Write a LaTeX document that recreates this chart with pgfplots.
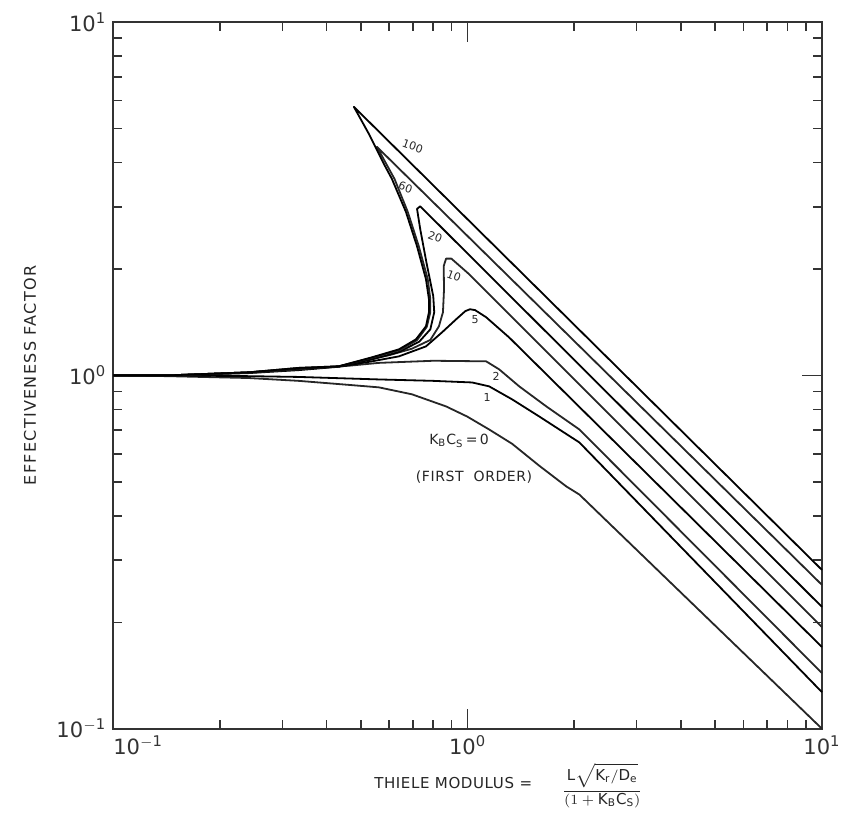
\documentclass[border=0pt]{standalone}
\usepackage{fontspec}
\setmainfont{DejaVu Sans}
\newfontfamily\spaced[LetterSpace=8]{DejaVu Sans}
\newfontfamily\spacedx[LetterSpace=4]{DejaVu Sans}
\usepackage{pgfplots}
\pgfplotsset{compat=1.18}

\begin{document}
\begin{tikzpicture}
\path[use as bounding box] (-56.5pt,-45.5pt) rectangle (365.5pt,363.5pt);
\begin{axis}[
  at={(0,0)}, anchor=south west,
  scale only axis, width=353.5pt, height=352.5pt,
  xmode=log, ymode=log,
  xmin=0.1, xmax=10, ymin=0.1, ymax=10,
  clip=false,
  axis line style={line width=1pt, black!80},
  major tick length=10pt, minor tick length=4.5pt,
  every tick/.style={black!80, line width=0.8pt},
  xtick={0.1,1,10}, ytick={0.1,1,10},
  minor xtick={0.2,0.3,0.4,0.5,0.6,0.7,0.8,0.9,2,3,4,5,6,7,8,9},
  minor ytick={0.2,0.3,0.4,0.5,0.6,0.7,0.8,0.9,2,3,4,5,6,7,8,9},
  xticklabels={\makebox[0pt][l]{10\textsuperscript{$-$1}}, 10\textsuperscript{0}, 10\textsuperscript{1}},
  yticklabels={10\textsuperscript{$-$1}, 10\textsuperscript{0}, 10\textsuperscript{1}},
  tick label style={font=\fontsize{10.5}{12}\selectfont, black!80},
  cycle list={{black!85, solid}},
  every axis plot/.append style={line width=0.9pt, line join=round, no marks},
]
% K_B C_S = 0 (first order)
\addplot coordinates {(0.1,1.0) (0.1431,0.995) (0.2409,0.983) (0.3337,0.965) (0.4622,0.94) (0.5618,0.925) (0.6966,0.884) (0.8694,0.817) (0.9968,0.765) (1.1503,0.703) (1.3365,0.64) (1.5933,0.555) (1.8994,0.485) (2.0675,0.46) (10,0.1)};
% 1
\addplot coordinates {(0.1,1.0) (0.1431,1.0) (0.2409,0.995) (0.3337,0.99) (0.5618,0.974) (0.8,0.965) (1.0297,0.955) (1.1503,0.931) (1.3365,0.855) (1.5933,0.765) (2.0675,0.646) (10,0.1269)};
% 2
\addplot coordinates {(0.1,1.0) (0.1431,1.0) (0.2409,1.02) (0.3337,1.04) (0.4622,1.065) (0.5618,1.085) (0.8,1.1) (1.1279,1.096) (1.2279,1.04) (1.3985,0.931) (1.6679,0.817) (2.0675,0.703) (10,0.1437)};
% 5
\addplot coordinates {(0.1,1.0) (0.1431,1.0) (0.2409,1.015) (0.3337,1.035) (0.4330,1.058) (0.537,1.096) (0.64,1.132) (0.763,1.208) (0.847,1.324) (0.928,1.441) (0.985,1.52) (1.016,1.539) (1.05,1.53) (1.1279,1.461) (1.3105,1.28) (10,0.1703)};
% 10
\addplot coordinates {(0.1,1.0) (0.1431,1.0) (0.2409,1.017) (0.3337,1.04) (0.4330,1.06) (0.5996,1.14) (0.6966,1.19) (0.785,1.26) (0.83,1.377) (0.852,1.509) (0.858,1.754) (0.856,2.037) (0.8694,2.14) (0.90,2.14) (1.0098,1.934) (10,0.194)};
% 20
\addplot coordinates {(0.1,1.0) (0.1431,1.0) (0.2409,1.02) (0.3337,1.045) (0.4330,1.06) (0.537,1.11) (0.64,1.165) (0.73,1.245) (0.785,1.35) (0.805,1.509) (0.80,1.675) (0.765,2.093) (0.735,2.595) (0.72,2.96) (0.735,3.01) (10,0.2212)};
% 60
\addplot coordinates {(0.1,1.0) (0.1431,1.0) (0.2409,1.02) (0.3337,1.05) (0.4330,1.061) (0.537,1.122) (0.645,1.18) (0.72,1.258) (0.767,1.372) (0.785,1.509) (0.785,1.643) (0.772,1.872) (0.728,2.323) (0.678,2.9) (0.622,3.597) (0.5546,4.435) (10,0.2553)};
% 100
\addplot coordinates {(0.1,1.0) (0.1431,1.0) (0.2409,1.02) (0.3337,1.05) (0.4330,1.061) (0.537,1.125) (0.64,1.185) (0.715,1.265) (0.763,1.377) (0.778,1.509) (0.778,1.643) (0.763,1.872) (0.7196,2.323) (0.670,2.9) (0.6116,3.597) (0.5804,3.968) (0.5263,4.828) (0.4775,5.757) (10,0.2815)};

% curve labels
\begin{scope}[every node/.style={font=\fontsize{5.5}{6}\selectfont, black!85, inner sep=0pt}]
\node[rotate=-20] at (axis cs:0.70,4.45) {100};
\node[rotate=-20] at (axis cs:0.668,3.40) {60};
\node[rotate=-20] at (axis cs:0.810,2.47) {20};
\node[rotate=-20] at (axis cs:0.915,1.91) {10};
\node at (axis cs:1.050,1.44) {5};
\node at (axis cs:1.204,0.995) {2};
\node at (axis cs:1.135,0.866) {1};
\end{scope}
\node[font=\fontsize{7}{8}\selectfont, black!85] at (axis cs:0.946,0.654) {K\textsubscript{B}C\textsubscript{S}\,=\,0};
\node[font=\spacedx\fontsize{7}{8}\selectfont, black!85] at (axis cs:1.043,0.514) {(FIRST\ \ ORDER)};

% axis titles
\node[rotate=90, font=\spaced\fontsize{8}{9}\selectfont, black!85] at ([xshift=-41.5pt]rel axis cs:0,0.5) {EFFECTIVENESS FACTOR};
\node[anchor=base east, font=\spacedx\fontsize{7.5}{9}\selectfont, black!85] at ([yshift=-30pt]rel axis cs:0.601,0) {THIELE MODULUS =};
\node[font=\fontsize{7.5}{9}\selectfont, black!85] at ([yshift=-28.5pt]rel axis cs:0.69,0)
  {$\displaystyle\frac{\mathrm{L}\sqrt{\mathrm{K}_{\mathrm{r}}/\mathrm{D}_{\mathrm{e}}}}{(1+\mathrm{K}_{\mathrm{B}}\mathrm{C}_{\mathrm{S}})}$};
\end{axis}
\end{tikzpicture}
\end{document}
